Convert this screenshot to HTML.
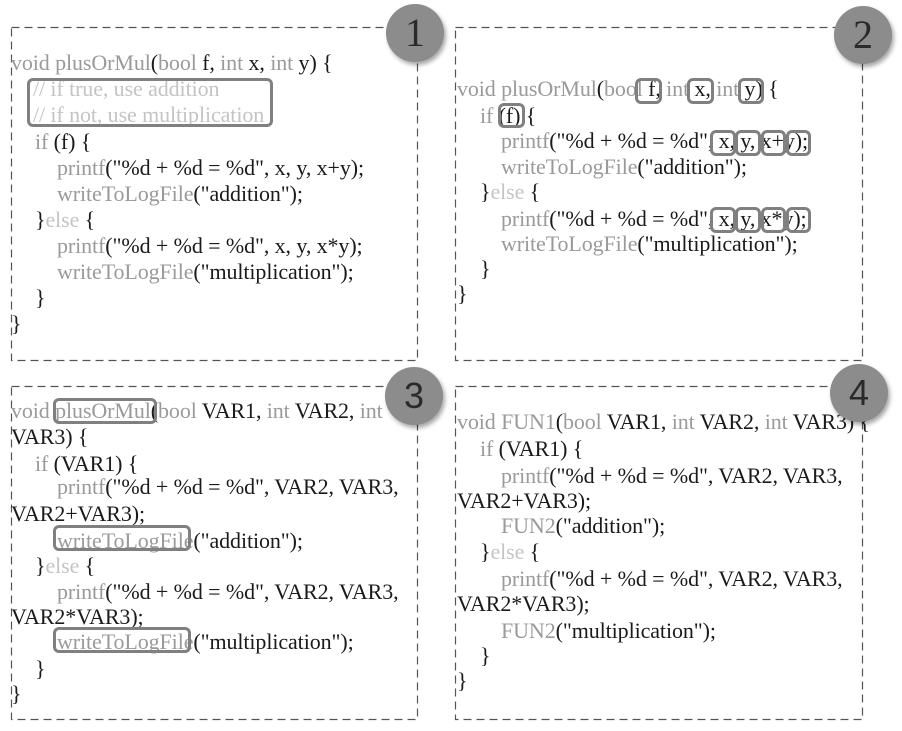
<!DOCTYPE html>
<html><head><meta charset="utf-8"><style>
body{margin:0;width:902px;height:731px;background:#fff;position:relative;overflow:hidden;font-family:"Liberation Serif",serif;}
.l{position:absolute;font-size:22px;line-height:26px;white-space:pre;color:#1a1a1a;letter-spacing:-0.1px;}
.g{color:#9a9a9a}.c{color:#c4c4c4}
.h{position:absolute;border:3px solid #808080;border-radius:6px;box-sizing:border-box;}
.circ{position:absolute;width:58px;height:58px;border-radius:50%;background:#8c8c8c;box-shadow:2px 3px 4px rgba(0,0,0,0.35);color:#2a2a2a;font-size:40px;line-height:58px;text-align:center;}
</style></head><body>
<svg width="902" height="731" style="position:absolute;left:0;top:0">
<g fill="none" stroke="#555" stroke-width="1.2" stroke-dasharray="8 5">
<rect x="11.5" y="27.5" width="406" height="333"/>
<rect x="455.5" y="27.5" width="407" height="333"/>
<rect x="11.5" y="386.5" width="406" height="333"/>
<rect x="455.5" y="386.5" width="407" height="333"/>
</g></svg>

<!-- Panel 1 -->
<div class="l" style="left:11px;top:50px"><span class="g">void plusOrMul</span>(<span class="g">bool</span> f, <span class="g">int</span> x, <span class="g">int</span> y) {</div>
<div class="l c" style="left:33px;top:76px">// if true, use addition</div>
<div class="l c" style="left:33px;top:102px">// if not, use multiplication</div>
<div class="l" style="left:35px;top:129px"><span class="g">if</span> (f) {</div>
<div class="l" style="left:57px;top:155px"><span class="g">printf</span>("%d + %d = %d", x, y, x+y);</div>
<div class="l" style="left:57px;top:181px"><span class="g">writeToLogFile</span>("addition");</div>
<div class="l" style="left:35px;top:207px">}<span class="c">else</span> {</div>
<div class="l" style="left:57px;top:233px"><span class="g">printf</span>("%d + %d = %d", x, y, x*y);</div>
<div class="l" style="left:57px;top:259px"><span class="g">writeToLogFile</span>("multiplication");</div>
<div class="l" style="left:35px;top:285px">}</div>
<div class="l" style="left:11px;top:311px">}</div>
<div class="h" style="left:27px;top:78px;width:246px;height:49px"></div>

<!-- Panel 2 -->
<div class="l" style="left:457px;top:76px"><span class="g">void plusOrMul</span>(<span class="g">bool</span> f, <span class="g">int</span> x, <span class="g">int</span> y) {</div>
<div class="l" style="left:480px;top:103px"><span class="g">if</span> (f) {</div>
<div class="l" style="left:501px;top:128px"><span class="g">printf</span>("%d + %d = %d", x, y, x+y);</div>
<div class="l" style="left:501px;top:154px"><span class="g">writeToLogFile</span>("addition");</div>
<div class="l" style="left:480px;top:179px">}<span class="c">else</span> {</div>
<div class="l" style="left:501px;top:206px"><span class="g">printf</span>("%d + %d = %d", x, y, x*y);</div>
<div class="l" style="left:501px;top:231px"><span class="g">writeToLogFile</span>("multiplication");</div>
<div class="l" style="left:480px;top:256px">}</div>
<div class="l" style="left:457px;top:281px">}</div>
<div class="h" style="left:635px;top:78px;width:27px;height:26px"></div>
<div class="h" style="left:687px;top:78px;width:27px;height:26px"></div>
<div class="h" style="left:738px;top:78px;width:26px;height:26px"></div>
<div class="h" style="left:498px;top:103px;width:27px;height:25px"></div>
<div class="h" style="left:710px;top:130px;width:26px;height:26px"></div>
<div class="h" style="left:735px;top:130px;width:26px;height:26px"></div>
<div class="h" style="left:761px;top:130px;width:25px;height:26px"></div>
<div class="h" style="left:786px;top:130px;width:25px;height:26px"></div>
<div class="h" style="left:710px;top:207px;width:26px;height:26px"></div>
<div class="h" style="left:735px;top:207px;width:26px;height:26px"></div>
<div class="h" style="left:761px;top:207px;width:25px;height:26px"></div>
<div class="h" style="left:786px;top:207px;width:25px;height:26px"></div>

<!-- Panel 3 -->
<div class="l" style="left:11px;top:398px"><span class="g">void plusOrMul</span>(<span class="g">bool</span> VAR1, <span class="g">int</span> VAR2, <span class="g">int</span></div>
<div class="l" style="left:11px;top:424px">VAR3) {</div>
<div class="l" style="left:35px;top:451px"><span class="g">if</span> (VAR1) {</div>
<div class="l" style="left:57px;top:474px"><span class="g">printf</span>("%d + %d = %d", VAR2, VAR3,</div>
<div class="l" style="left:11px;top:501px">VAR2+VAR3);</div>
<div class="l" style="left:57px;top:528px"><span class="g">writeToLogFile</span>("addition");</div>
<div class="l" style="left:35px;top:553px">}<span class="c">else</span> {</div>
<div class="l" style="left:57px;top:579px"><span class="g">printf</span>("%d + %d = %d", VAR2, VAR3,</div>
<div class="l" style="left:11px;top:604px">VAR2*VAR3);</div>
<div class="l" style="left:57px;top:629px"><span class="g">writeToLogFile</span>("multiplication");</div>
<div class="l" style="left:35px;top:656px">}</div>
<div class="l" style="left:11px;top:681px">}</div>
<div class="h" style="left:53px;top:398px;width:104px;height:26px"></div>
<div class="h" style="left:53px;top:525px;width:138px;height:26px"></div>
<div class="h" style="left:53px;top:627px;width:138px;height:26px"></div>

<!-- Panel 4 -->
<div class="l" style="left:457px;top:409px"><span class="g">void FUN1</span>(<span class="g">bool</span> VAR1, <span class="g">int</span> VAR2, <span class="g">int</span> VAR3) {</div>
<div class="l" style="left:480px;top:436px"><span class="g">if</span> (VAR1) {</div>
<div class="l" style="left:501px;top:463px"><span class="g">printf</span>("%d + %d = %d", VAR2, VAR3,</div>
<div class="l" style="left:457px;top:488px">VAR2+VAR3);</div>
<div class="l" style="left:501px;top:513px"><span class="g">FUN2</span>("addition");</div>
<div class="l" style="left:480px;top:539px">}<span class="c">else</span> {</div>
<div class="l" style="left:501px;top:566px"><span class="g">printf</span>("%d + %d = %d", VAR2, VAR3,</div>
<div class="l" style="left:457px;top:591px">VAR2*VAR3);</div>
<div class="l" style="left:501px;top:618px"><span class="g">FUN2</span>("multiplication");</div>
<div class="l" style="left:480px;top:643px">}</div>
<div class="l" style="left:457px;top:668px">}</div>

<div class="circ" style="left:386px;top:4px">1</div>
<div class="circ" style="left:834px;top:6px">2</div>
<div class="circ" style="left:385px;top:367px;font-family:'Liberation Sans',sans-serif;font-size:36px">3</div>
<div class="circ" style="left:830px;top:364px;font-family:'Liberation Sans',sans-serif;font-size:36px">4</div>
</body></html>
